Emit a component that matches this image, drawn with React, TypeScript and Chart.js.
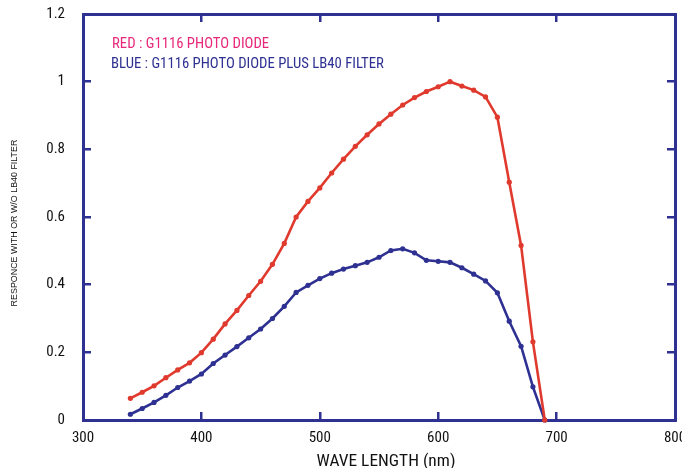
import React, { useEffect, useRef } from "react";
import { Chart, registerables } from "chart.js";

Chart.register(...registerables);

const wavelengths = [
  340, 350, 360, 370, 380, 390, 400, 410, 420, 430, 440, 450, 460, 470, 480, 490,
  500, 510, 520, 530, 540, 550, 560, 570, 580, 590, 600, 610, 620, 630, 640, 650,
  660, 670, 680, 690,
];

const redResponse = [
  0.064, 0.082, 0.101, 0.125, 0.148, 0.169, 0.199, 0.239, 0.284, 0.324, 0.368, 0.41,
  0.46, 0.522, 0.6, 0.646, 0.686, 0.73, 0.771, 0.809, 0.843, 0.875, 0.904, 0.931,
  0.953, 0.971, 0.985, 1.0, 0.987, 0.975, 0.955, 0.895, 0.703, 0.516, 0.231, 0.0,
];

const blueResponse = [
  0.017, 0.034, 0.052, 0.073, 0.096, 0.115, 0.136, 0.167, 0.192, 0.217, 0.243, 0.269,
  0.3, 0.336, 0.377, 0.398, 0.418, 0.434, 0.446, 0.456, 0.466, 0.481, 0.501, 0.506,
  0.494, 0.472, 0.469, 0.466, 0.45, 0.431, 0.411, 0.376, 0.292, 0.218, 0.098, 0.0,
];

const legendLines = [
  "RED : G1116 PHOTO DIODE",
  "BLUE : G1116 PHOTO DIODE PLUS LB40 FILTER",
];
const xTitle = "WAVE LENGTH (nm)";
const yTitle = "RESPONCE WITH OR W/O LB40 FILTER";

const NARROW = '"Roboto Condensed", "DejaVu Sans Condensed", sans-serif';
const FRAME = "#2f3192";
const RED = "#e03a2e";
const BLUE = "#2e3192";
const PINK = "#e8287a";
const TICK_LEN = -8;

function fitFont(ctx: CanvasRenderingContext2D, text: string, family: string, width: number) {
  ctx.font = `20px ${family}`;
  const w = ctx.measureText(text).width;
  return (20 * width) / w;
}

const inwardGrid = {
  display: true,
  drawOnChartArea: false,
  drawTicks: true,
  tickLength: TICK_LEN,
  color: FRAME,
  lineWidth: 2.5,
};
const frameBorder = { display: true, color: FRAME, width: 3 };

const textPlugin = {
  id: "textPlugin",
  afterDraw(chart: any) {
    const { ctx } = chart;
    ctx.save();
    const legSize = fitFont(ctx, legendLines[1], NARROW, 273);
    ctx.font = `${legSize}px ${NARROW}`;
    ctx.textAlign = "left";
    ctx.textBaseline = "alphabetic";
    ctx.fillStyle = PINK;
    ctx.fillText(legendLines[0], 112, 48);
    ctx.fillStyle = BLUE;
    ctx.fillText(legendLines[1], 111, 68);

    ctx.fillStyle = "#111";
    const xtSize = fitFont(ctx, xTitle, NARROW, 139);
    ctx.font = `${xtSize}px ${NARROW}`;
    ctx.textAlign = "center";
    ctx.fillText(xTitle, 386, 466);

    const ytSize = fitFont(ctx, yTitle, `"Liberation Sans", Arial, sans-serif`, 167);
    ctx.font = `${ytSize}px "Liberation Sans", Arial, sans-serif`;
    ctx.translate(17, 223);
    ctx.rotate(-Math.PI / 2);
    ctx.textAlign = "center";
    ctx.fillText(yTitle, 0, 0);
    ctx.restore();
  },
};

export default function App() {
  const ref = useRef<HTMLCanvasElement | null>(null);

  useEffect(() => {
    if (!ref.current) return;
    const toPts = (ys: number[]) => wavelengths.map((x, i) => ({ x, y: ys[i] }));
    const chart = new Chart(ref.current, {
      type: "line",
      data: {
        datasets: [
          {
            label: "RED",
            data: toPts(redResponse),
            borderColor: RED,
            backgroundColor: RED,
            borderWidth: 2.6,
            pointRadius: 2.6,
            pointBorderWidth: 0,
            tension: 0,
            clip: false as any,
            xAxisID: "x",
            yAxisID: "y",
          },
          {
            label: "BLUE",
            data: toPts(blueResponse),
            borderColor: BLUE,
            backgroundColor: BLUE,
            borderWidth: 2.6,
            pointRadius: 2.6,
            pointBorderWidth: 0,
            tension: 0,
            clip: false as any,
            xAxisID: "x",
            yAxisID: "y",
          },
        ],
      },
      options: {
        animation: false,
        responsive: false,
        devicePixelRatio: 1,
        layout: { padding: 0 },
        plugins: { legend: { display: false }, tooltip: { enabled: false } },
        scales: {
          x: {
            type: "linear",
            position: "bottom",
            min: 300,
            max: 800,
            grid: inwardGrid as any,
            border: frameBorder as any,
            ticks: {
              stepSize: 100,
              padding: 17,
              color: "#111",
              font: { family: NARROW, size: 15 },
              maxRotation: 0,
            },
            afterFit(scale: any) {
              scale.height = 48;
              scale.paddingLeft = 0;
              scale.paddingRight = 0;
            },
          },
          x2: {
            type: "linear",
            position: "top",
            min: 300,
            max: 800,
            grid: inwardGrid as any,
            border: frameBorder as any,
            ticks: { stepSize: 100, display: false },
            afterFit(scale: any) {
              scale.height = 14;
              scale.paddingLeft = 0;
              scale.paddingRight = 0;
            },
          },
          y: {
            type: "linear",
            position: "left",
            min: 0,
            max: 1.2,
            grid: inwardGrid as any,
            border: frameBorder as any,
            ticks: {
              stepSize: 0.2,
              padding: 26,
              color: "#111",
              font: { family: NARROW, size: 15 },
              callback: (v: any) => String(Math.round(Number(v) * 10) / 10),
            },
            afterFit(scale: any) {
              scale.width = 83;
              scale.paddingTop = 0;
              scale.paddingBottom = 0;
            },
          },
          y2: {
            type: "linear",
            position: "right",
            min: 0,
            max: 1.2,
            grid: inwardGrid as any,
            border: frameBorder as any,
            ticks: { stepSize: 0.2, display: false },
            afterFit(scale: any) {
              scale.width = 7;
              scale.paddingTop = 0;
              scale.paddingBottom = 0;
            },
          },
        },
      },
      plugins: [textPlugin],
    });
    return () => chart.destroy();
  }, []);

  return (
    <div style={{ position: "fixed", left: 0, top: 0, width: 682, height: 468, background: "#fff" }}>
      <canvas ref={ref} width={682} height={468} style={{ width: 682, height: 468 }} />
    </div>
  );
}
